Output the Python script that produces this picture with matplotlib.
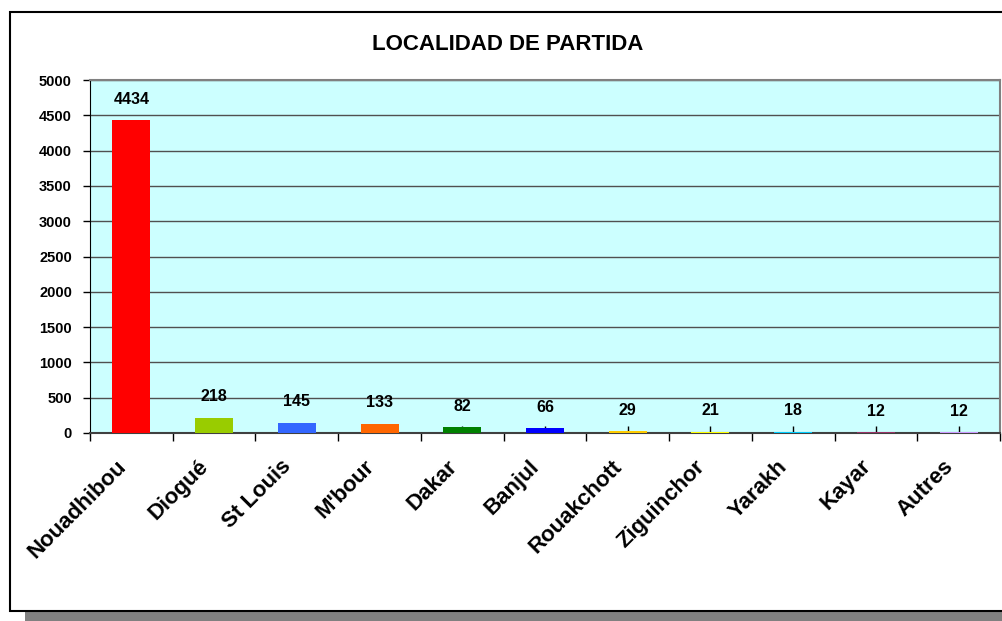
import numpy as np
import matplotlib.pyplot as plt
from matplotlib.patches import Rectangle
from matplotlib.transforms import ScaledTranslation

plt.rcParams['font.family'] = ['Liberation Sans', 'DejaVu Sans']
plt.rcParams['font.weight'] = 'bold'

# localidades de partida
localidades = ['Nouadhibou', 'Diogué', 'St Louis', "M'bour", 'Dakar', 'Banjul',
               'Rouakchott', 'Ziguinchor', 'Yarakh', 'Kayar', 'Autres']
valores = [4434, 218, 145, 133, 82, 66, 29, 21, 18, 12, 12]
colores = ['#FF0000', '#99CC00', '#3366FF', '#FF6600', '#008000', '#0000FF',
           '#FFCC00', '#FFFF00', '#00CCFF', '#993366', '#CC99FF']

fig = plt.figure(figsize=(10.02, 6.21), dpi=100)

# marco con sombra
sombra = Rectangle((25 / 1002, -0.05), 1.2, 1.0, transform=fig.transFigure,
                   facecolor='#808080', edgecolor='none', zorder=0)
marco = Rectangle((10 / 1002, 10 / 621), 1.2, (611 - 12) / 621, transform=fig.transFigure,
                  facecolor='white', edgecolor='black', linewidth=1.5, zorder=1)
fig.patches.extend([sombra, marco])

ax = fig.add_axes([90 / 1002, (621 - 433) / 621, 910 / 1002, 353 / 621])
ax.set_facecolor('#CCFFFF')
ax.set_zorder(2)

x = np.arange(len(localidades))
ax.bar(x, valores, width=0.46, color=colores, zorder=3)

for xi, v in zip(x, valores):
    ax.annotate(str(v), (xi, v), xytext=(0, 15), textcoords='offset points',
                ha='center', va='center', fontsize=11.5, fontweight='bold')

ax.set_ylim(0, 5000)
ax.set_xlim(-0.5, len(localidades) - 0.5)
ax.set_yticks(np.arange(0, 5001, 500))
ax.set_yticklabels([str(t) for t in range(0, 5001, 500)], fontsize=10.5, fontweight='bold')
ax.yaxis.grid(True, color='#505050', linewidth=1)
ax.set_axisbelow(True)

# marcas entre categorias hacia fuera, marcas centrales hacia dentro
ax.set_xticks(x)
ax.set_xticklabels(localidades, rotation=45, ha='right', va='top',
                   rotation_mode='anchor', fontsize=16, fontweight='bold')
ax.tick_params(axis='x', direction='in', length=5, width=1, pad=10, color='black')
desplaz = ScaledTranslation(-16 / 100, -9 / 100, fig.dpi_scale_trans)
for etiqueta in ax.get_xticklabels():
    etiqueta.set_transform(etiqueta.get_transform() + desplaz)
ax.set_xticks(np.arange(-0.5, len(localidades), 1), minor=True)
ax.tick_params(axis='x', which='minor', direction='out', length=6, width=1, color='black')
ax.tick_params(axis='y', direction='out', length=5, width=1, pad=8)

for lado in ['top', 'right']:
    ax.spines[lado].set_color('#808080')
    ax.spines[lado].set_linewidth(1.5)
ax.spines['left'].set_color('black')
ax.spines['bottom'].set_color('#404040')
ax.spines['bottom'].set_linewidth(1.5)

fig.text(508 / 1002, (621 - 44) / 621, 'LOCALIDAD DE PARTIDA', ha='center', va='center',
         fontsize=16, fontweight='bold', zorder=3)

fig.savefig('out.png', dpi=100)
